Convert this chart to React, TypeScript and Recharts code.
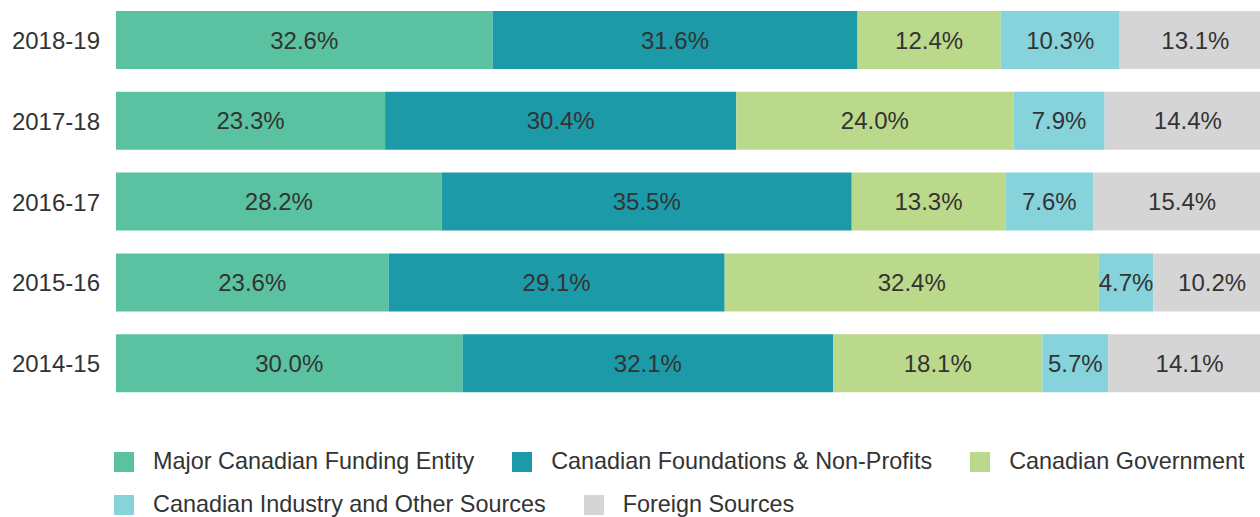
import { BarChart, Bar, XAxis, YAxis, Legend, LabelList } from "recharts";

const years = ["2018-19", "2017-18", "2016-17", "2015-16", "2014-15"];
const majorEntity = [32.6, 23.3, 28.2, 23.6, 30.0];
const foundations = [31.6, 30.4, 35.5, 29.1, 32.1];
const government = [12.4, 24.0, 13.3, 32.4, 18.1];
const industry = [10.3, 7.9, 7.6, 4.7, 5.7];
const foreign = [13.1, 14.4, 15.4, 10.2, 14.1];

const series = [
    { key: "major", name: "Major Canadian Funding Entity", color: "#5ac2a0" },
    { key: "foundations", name: "Canadian Foundations & Non-Profits", color: "#1d9aa8" },
    { key: "government", name: "Canadian Government", color: "#bbd98a" },
    { key: "industry", name: "Canadian Industry and Other Sources", color: "#86d3db" },
    { key: "foreign", name: "Foreign Sources", color: "#d6d5d6" },
];

const data = years.map((year, i) => ({
    year,
    major: majorEntity[i],
    foundations: foundations[i],
    government: government[i],
    industry: industry[i],
    foreign: foreign[i],
}));

const FONT = "'Liberation Sans', Arial, sans-serif";

// legend laid out as in the reference: three items, then two
function LegendRows() {
    const rows = [series.slice(0, 3), series.slice(3)];
    return (
        <div style={{ fontFamily: FONT, fontSize: 23.4, color: "#333", width: 1146 }}>
            {rows.map((row, r) => (
                <div key={r} style={{ display: "flex", height: 43, alignItems: "center", whiteSpace: "nowrap" }}>
                    {row.map((s) => (
                        <div key={s.key} style={{ display: "flex", alignItems: "center", marginRight: 38, flexShrink: 0 }}>
                            <span style={{ width: 20, height: 20, background: s.color, marginRight: 19, display: "inline-block", flexShrink: 0 }} />
                            <span>{s.name}</span>
                        </div>
                    ))}
                </div>
            ))}
        </div>
    );
}

export default function App() {
    // the bars run a little past the right edge of the picture, so the chart is wider and clipped
    return (
        <div style={{ position: "absolute", left: 0, top: 0, width: 1260, height: 517, overflow: "hidden", background: "#fff" }}>
            <BarChart
                width={1271}
                height={517}
                data={data}
                layout="vertical"
                margin={{ top: 0, right: 0, bottom: 27, left: 0 }}
                barSize={58}
            >
                <XAxis type="number" domain={[0, 100]} hide />
                <YAxis
                    type="category"
                    dataKey="year"
                    width={116}
                    axisLine={false}
                    tickLine={false}
                    tickMargin={10}
                    tick={{ fontSize: 24, fill: "#333", fontFamily: FONT }}
                />
                <Legend
                    content={() => <LegendRows />}
                    wrapperStyle={{ left: 114, top: 440, width: 1146, height: 86 }}
                />
                {series.map((s) => (
                    <Bar
                        key={s.key}
                        dataKey={s.key}
                        name={s.name}
                        stackId="a"
                        fill={s.color}
                        isAnimationActive={false}
                    >
                        <LabelList
                            dataKey={s.key}
                            position="center"
                            formatter={(v: number) => `${v.toFixed(1)}%`}
                            style={{ fontSize: 24, fill: "#333", fontFamily: FONT }}
                        />
                    </Bar>
                ))}
            </BarChart>
        </div>
    );
}
